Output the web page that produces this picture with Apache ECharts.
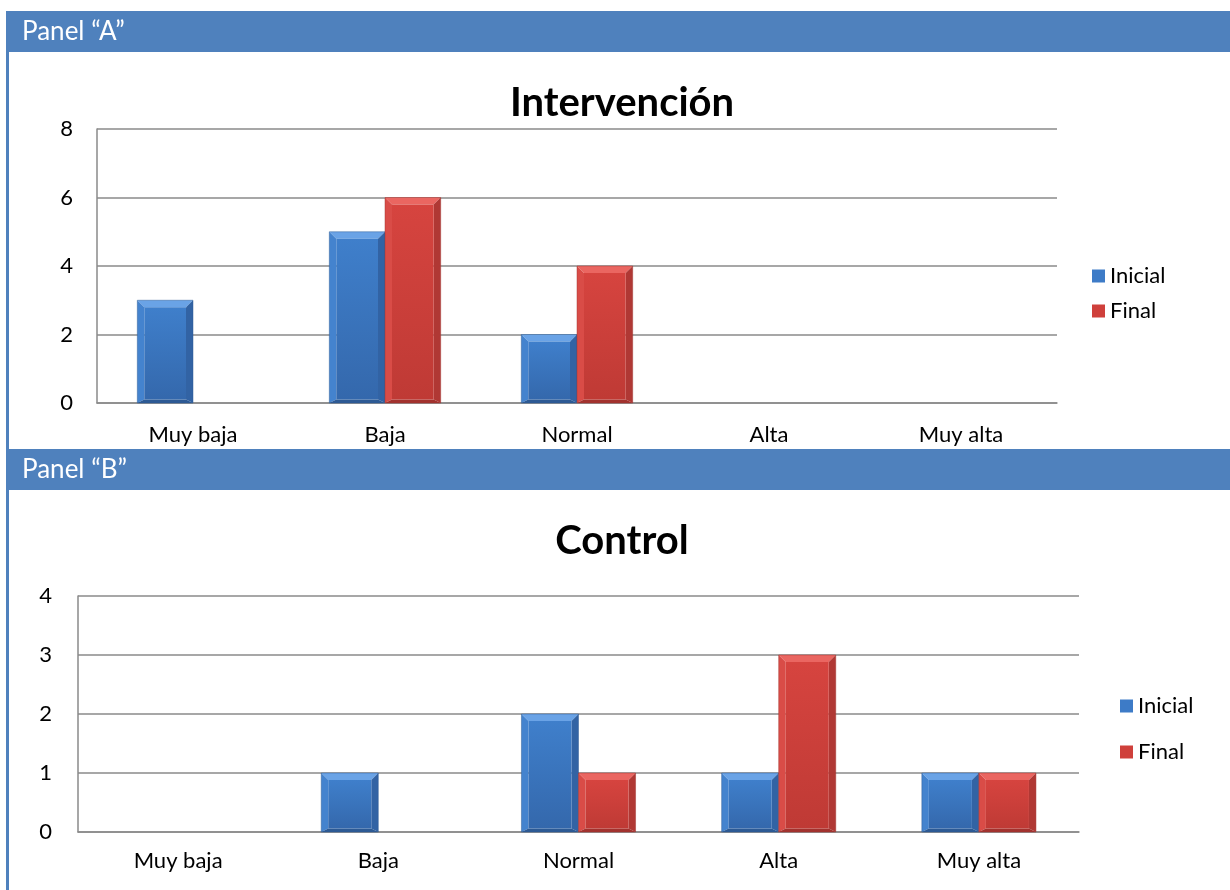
<!DOCTYPE html>
<html>
<head>
<meta charset="utf-8">
<title>Intervención / Control</title>
<script src="https://cdn.jsdelivr.net/npm/echarts@6/dist/echarts.min.js"></script>
<style>
  html, body { margin: 0; padding: 0; background: #ffffff; }
  #chart { width: 1230px; height: 890px; }
</style>
</head>
<body>
<div id="chart"></div>
<script>
// Categories shared by both panels
const categories = ['Muy baja', 'Baja', 'Normal', 'Alta', 'Muy alta'];

// Panel A — Intervención
const interInicial = [3, 5, 2, 0, 0];
const interFinal   = [0, 6, 4, 0, 0];

// Panel B — Control
const controlInicial = [0, 1, 2, 1, 1];
const controlFinal   = [0, 0, 1, 3, 1];

const seriesNames = ['Inicial', 'Final'];
const panelLabels = ['Panel \u201CA\u201D', 'Panel \u201CB\u201D'];
const chartTitles = ['Intervención', 'Control'];

const FONT = 'Lato, "Open Sans", sans-serif';
const HEADER = '#4F81BD';
const GRID = '#8a8a8a';

// Bevel shades for each series
const palettes = {
  Inicial: { top: '#6AA3E6', left: '#4483CE', right: '#3263A4', bottom: '#2D5A94',
             bodyTop: '#3F7FCB', bodyBottom: '#3468AC', legend: '#3D7BC7' },
  Final:   { top: '#EA6661', left: '#D94C47', right: '#B03834', bottom: '#A2322E',
             bodyTop: '#D6443F', bodyBottom: '#BF3A35', legend: '#CF403B' }
};

// Draws one bevelled bar; side = -1 puts it left of the category centre, +1 right.
function bevelRenderer(side, pal, widthFrac) {
  return function (params, api) {
    const v = api.value(1);
    if (!v) return null;
    const cat = api.value(0);
    const top = api.coord([cat, v]);
    const base = api.coord([cat, 0]);
    const band = api.size([1, 0])[0];
    const w = band * widthFrac;
    const x0 = side < 0 ? top[0] - w : top[0];
    const x1 = x0 + w;
    const y0 = top[1], y1 = base[1];
    const b = Math.min(7, w / 7, (y1 - y0) / 3);
    const bb = b * 0.5;
    const poly = (pts, fill) => ({ type: 'polygon', shape: { points: pts }, style: { fill: fill }, silent: true });
    return {
      type: 'group',
      children: [
        poly([[x0, y0], [x1, y0], [x1 - b, y0 + b], [x0 + b, y0 + b]], pal.top),
        poly([[x0, y0], [x0 + b, y0 + b], [x0 + b, y1 - bb], [x0, y1]], pal.left),
        poly([[x1, y0], [x1, y1], [x1 - b, y1 - bb], [x1 - b, y0 + b]], pal.right),
        poly([[x0, y1], [x0 + b, y1 - bb], [x1 - b, y1 - bb], [x1, y1]], pal.bottom),
        {
          type: 'rect',
          shape: { x: x0 + b, y: y0 + b, width: w - 2 * b, height: y1 - y0 - b - bb },
          style: {
            fill: new echarts.graphic.LinearGradient(0, 0, 0, 1, [
              { offset: 0, color: pal.bodyTop },
              { offset: 1, color: pal.bodyBottom }
            ])
          }
        },
        {
          type: 'rect',
          shape: { x: x0, y: y0, width: w, height: y1 - y0 },
          style: { fill: 'none', stroke: pal.bottom, lineWidth: 0.6, opacity: 0.8 }
        }
      ]
    };
  };
}

function bevelSeries(name, side, values, gridIndex, widthFrac) {
  const pal = palettes[name];
  return {
    type: 'custom',
    name: name,
    xAxisIndex: gridIndex,
    yAxisIndex: gridIndex,
    itemStyle: { color: pal.legend },
    encode: { x: 0, y: 1 },
    data: values.map((v, i) => [i, v]),
    renderItem: bevelRenderer(side, pal, widthFrac),
    z: 3
  };
}

function xAxis(gridIndex, margin) {
  return {
    type: 'category', gridIndex: gridIndex, data: categories,
    axisLine: { lineStyle: { color: GRID, width: 1.5 } },
    axisTick: { show: false },
    axisLabel: { color: '#000', fontFamily: FONT, fontSize: 22, margin: margin },
    splitLine: { show: false }
  };
}

function yAxis(gridIndex, max, margin) {
  return {
    type: 'value', gridIndex: gridIndex, min: 0, max: max, interval: gridIndex === 0 ? 2 : 1,
    axisLine: { show: true, lineStyle: { color: GRID, width: 1.5 } },
    axisTick: { show: false },
    axisLabel: { color: '#000', fontFamily: FONT, fontSize: 22, margin: margin },
    splitLine: { lineStyle: { color: GRID, width: 1.5 } }
  };
}

function legend(left, top, gap) {
  return {
    data: seriesNames, left: left, top: top, orient: 'vertical', padding: 0,
    icon: 'rect', itemWidth: 13, itemHeight: 13, itemGap: gap, itemTextGap: 3,
    selectedMode: false,
    textStyle: { fontFamily: FONT, fontSize: 22, color: '#000', lineHeight: 24 }
  };
}

function headerBar(y, label) {
  return [
    { type: 'rect', shape: { x: 6, y: y, width: 1224, height: 41 }, style: { fill: HEADER }, z: 10 },
    { type: 'text', x: 22, y: y + 21, z: 11,
      style: { text: label, fill: '#ffffff', font: '26px ' + FONT, textVerticalAlign: 'middle' } }
  ];
}

function titleText(y, text) {
  return { type: 'text', x: 622, y: y, z: 11,
    style: { text: text, fill: '#000', font: 'bold 40px ' + FONT,
             textAlign: 'center', textVerticalAlign: 'middle' } };
}

const chart = echarts.init(document.getElementById('chart'), null, { renderer: 'canvas' });

chart.setOption({
  backgroundColor: '#ffffff',
  animation: false,
  grid: [
    { left: 97, top: 129, width: 960, height: 274 },
    { left: 78, top: 596, width: 1001, height: 236 }
  ],
  xAxis: [xAxis(0, 21), xAxis(1, 18)],
  yAxis: [yAxis(0, 8, 24), yAxis(1, 4, 26)],
  legend: [legend(1092, 264, 11), legend(1120, 694, 22)],
  graphic: [
    { type: 'rect', shape: { x: 6, y: 11, width: 3, height: 879 }, style: { fill: HEADER }, z: 10 },
    ...headerBar(11, panelLabels[0]),
    ...headerBar(449, panelLabels[1]),
    titleText(103, chartTitles[0]),
    titleText(541, chartTitles[1])
  ],
  series: [
    bevelSeries('Inicial', -1, interInicial, 0, 0.29),
    bevelSeries('Final', 1, interFinal, 0, 0.29),
    bevelSeries('Inicial', -1, controlInicial, 1, 0.285),
    bevelSeries('Final', 1, controlFinal, 1, 0.285)
  ]
});
</script>
</body>
</html>
